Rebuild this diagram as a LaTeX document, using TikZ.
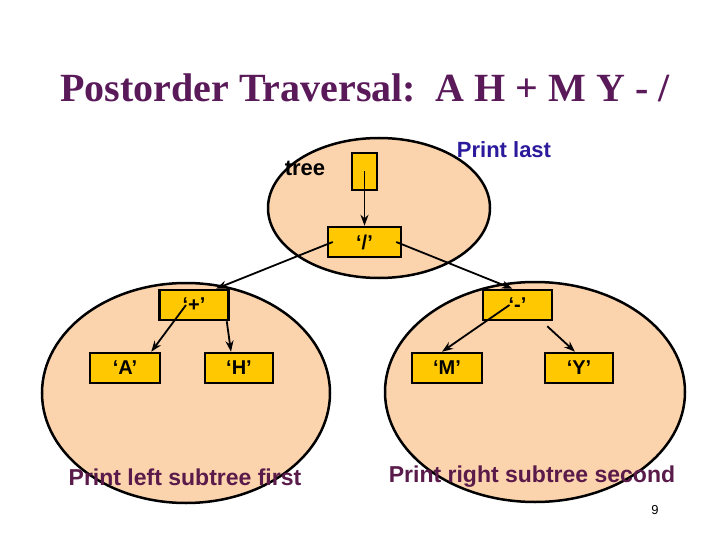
\documentclass[tikz,border=0pt]{standalone}
\usepackage{fontspec}
\setmainfont{Liberation Sans}
\newfontfamily\serif{Liberation Serif}
\usetikzlibrary{arrows.meta}
\definecolor{peach}{HTML}{FBD3AC}
\definecolor{gold}{HTML}{FFC800}
\definecolor{ttl}{HTML}{5A1A5A}
\definecolor{blu}{HTML}{2B1A9C}
\definecolor{lab}{HTML}{5A1A4A}
\begin{document}
\begin{tikzpicture}[x=1pt,y=-1pt,
  blob/.style={draw=black,line width=2.5pt,fill=peach},
  box/.style={draw=black,line width=2.5pt,fill=gold,minimum width=70pt,minimum height=30pt,inner sep=0pt,font=\bfseries\fontsize{20}{22}\selectfont},
  arr/.style={line width=1.8pt,-{Stealth[length=11pt,width=8pt]}}]
\useasboundingbox (0,0) rectangle (720,540);
\fill[white] (0,0) rectangle (720,540);
\draw[blob] (379,208) ellipse[x radius=111,y radius=70];
\draw[blob] (186,393) ellipse[x radius=144,y radius=110];
\draw[blob] (535,392) ellipse[x radius=150,y radius=110];
\node[font=\serif\bfseries\fontsize{40}{44}\selectfont,text=ttl] (title) at (365,88) {Postorder Traversal:\ \ A H + M Y - /};
\node[font=\bfseries\fontsize{22}{24}\selectfont] (tree) at (305,168) {tree};
\node[font=\bfseries\fontsize{22}{24}\selectfont,text=blu] (last) at (504,150) {Print last};
\node[box,minimum width=25pt,minimum height=37pt] (t) at (364.5,171.5) {};
\node[box,minimum width=73pt] (div) at (364.5,242) {‘/’};
\node[box,minimum width=69pt] (plus) at (194,305) {‘+’};
\node[box,minimum width=69pt] (minus) at (517.5,305) {‘-’};
\node[box] (A) at (125,368) {‘A’};
\node[box,minimum width=68pt] (H) at (239,368) {‘H’};
\node[box] (M) at (447,368) {‘M’};
\node[box,minimum width=68pt] (Y) at (579,368) {‘Y’};
\node[font=\bfseries\fontsize{23}{25}\selectfont,text=lab] (ll) at (185,477) {Print left subtree first};
\node[font=\bfseries\fontsize{23}{25}\selectfont,text=lab] (rl) at (532,477) {Print right subtree second};
\node[font=\fontsize{13}{15}\selectfont] (pg) at (655,510) {9};
\draw[arr] (t.center) -- (div.north);
\draw[arr] ([xshift=6pt]div.west) -- ([xshift=22pt]plus.north);
\draw[arr] ([xshift=-6pt]div.east) -- ([xshift=-5pt]minus.north);
\draw[arr] ([xshift=-8pt]plus.center) -- ([xshift=-10pt]A.north east);
\draw[arr] ([xshift=-3pt]plus.south east) -- ([xshift=-8pt]H.north);
\draw[arr] ([xshift=-8pt]minus.center) -- ([xshift=-5pt]M.north);
\draw[arr] ([xshift=-6pt,yshift=-5pt]minus.south east) -- ([xshift=-4pt]Y.north);
\end{tikzpicture}
\end{document}
